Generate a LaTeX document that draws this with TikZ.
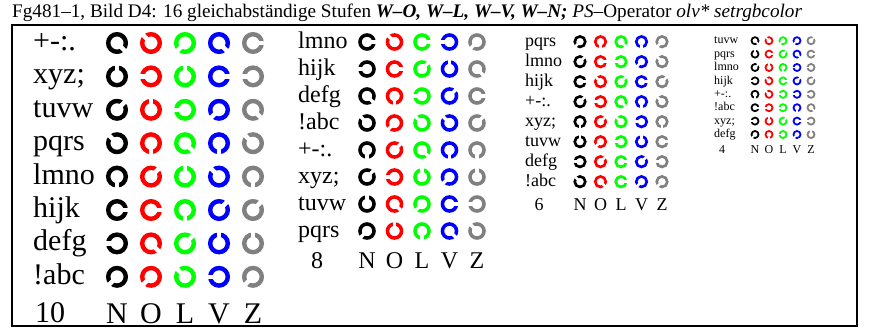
\documentclass[tikz,border=0pt]{standalone}
\usepackage{fontspec}
\setmainfont{Liberation Serif}
\usepackage{tikz}
\usetikzlibrary{positioning}
\definecolor{olvN}{rgb}{0,0,0}
\definecolor{olvO}{rgb}{1,0,0}
\definecolor{olvL}{rgb}{0,1,0}
\definecolor{olvV}{rgb}{0,0,1}
\definecolor{olvZ}{rgb}{0.5,0.5,0.5}
\tikzset{lab/.style = {inner sep = 0, anchor = base, font = \fontsize{#1}{#1}\selectfont}}
\tikzset{frame/.style = {line width = 2}}
% Landolt ring: x, y, size, colour, gap angle
\newcommand{\landolt}[5]{%
  \begin{scope}[shift = {(#1, #2)}, rotate = #5]
    \draw [#4, line width = 0.44*#3] (0, 0) circle [radius = 0.88*#3];
    \fill [white] (0.5*#3, -0.22*#3) rectangle (1.3*#3, 0.22*#3);
  \end{scope}}

\begin{document}
\begin{tikzpicture}[x = 1pt, y = 1pt]
        \useasboundingbox [fill = white] (0, 0) rectangle (876, -330);
        \node [lab = 19.2, anchor = base west] (title) at (12, -17)
          {Fg481--1, Bild D4: 16 gleichabständige Stufen \textbf{\textit{W--O, W--L, W--V, W--N;}} \textit{PS}--Operator \textit{olv* setrgbcolor}};
        \draw [frame] (12, -25) rectangle (857, -326);

        % 10
        \foreach \lbl/\a/\b/\c/\d/\e [count = \i from 0] in {
            {+-:.}/-45/135/225/-45/0, {xyz;}/90/180/90/0/180,
            {tuvw}/45/90/180/225/-45, {pqrs}/135/270/-45/270/135,
            {lmno}/270/45/90/135/270, {hijk}/0/0/270/45/45,
            {defg}/180/-45/45/90/90, {!abc}/225/225/135/180/225} {
          \pgfmathsetmacro\y{-43 - 33.4*\i}
          \node [lab = 30, anchor = base west] (ten\i) at (33, \y - 7.5) {\lbl};
          \landolt{117}{\y}{10}{olvN}{\a}
          \landolt{151}{\y}{10}{olvO}{\b}
          \landolt{185}{\y}{10}{olvL}{\c}
          \landolt{219}{\y}{10}{olvV}{\d}
          \landolt{253}{\y}{10}{olvZ}{\e}
        }
        \node [lab = 30, anchor = base west] (tennum) at (35, -322) {10};
        \foreach \s [count = \k from 0] in {N, O, L, V, Z}
          \node [lab = 30] (ten\s) at (117 + 34*\k, -323) {\s};

        % 8
        \foreach \lbl/\a/\b/\c/\d/\e [count = \i from 0] in {
            {lmno}/0/135/0/180/225, {hijk}/180/0/45/90/-45,
            {defg}/-45/270/180/45/0, {!abc}/135/225/135/135/45,
            {+-:.}/270/45/-45/270/270, {xyz;}/45/180/90/225/90,
            {tuvw}/90/-45/225/0/180, {pqrs}/225/90/270/-45/135} {
          \pgfmathsetmacro\y{-42 - 27*\i}
          \node [lab = 24, anchor = base west] (eight\i) at (298, \y - 6) {\lbl};
          \landolt{367}{\y}{8}{olvN}{\a}
          \landolt{394.5}{\y}{8}{olvO}{\b}
          \landolt{422}{\y}{8}{olvL}{\c}
          \landolt{449.5}{\y}{8}{olvV}{\d}
          \landolt{477}{\y}{8}{olvZ}{\e}
        }
        \node [lab = 24] (eightnum) at (317, -268) {8};
        \foreach \s [count = \k from 0] in {N, O, L, V, Z}
          \node [lab = 24] (eight\s) at (367 + 27.5*\k, -268) {\s};

        % 6
        \foreach \lbl/\a/\b/\c/\d/\e [count = \i from 0] in {
            {pqrs}/225/270/-45/270/225, {lmno}/45/0/180/225/135,
            {hijk}/0/135/45/0/45, {+-:.}/45/180/-45/270/135,
            {xyz;}/270/45/135/180/270, {tuvw}/90/225/180/90/0,
            {defg}/180/45/0/45/180, {!abc}/135/-45/0/225/225} {
          \pgfmathsetmacro\y{-41.7 - 20*\i}
          \node [lab = 18, anchor = base west] (six\i) at (525, \y - 4.8) {\lbl};
          \landolt{580}{\y}{6}{olvN}{\a}
          \landolt{600.5}{\y}{6}{olvO}{\b}
          \landolt{621}{\y}{6}{olvL}{\c}
          \landolt{641.5}{\y}{6}{olvV}{\d}
          \landolt{662}{\y}{6}{olvZ}{\e}
        }
        \node [lab = 18] (sixnum) at (539, -210.5) {6};
        \foreach \s [count = \k from 0] in {N, O, L, V, Z}
          \node [lab = 18] (six\s) at (580 + 20.5*\k, -210.5) {\s};

        % 4
        \foreach \lbl/\a/\b/\c/\d/\e [count = \i from 0] in {
            {tuvw}/-45/135/225/225/45, {pqrs}/90/0/45/-45/0,
            {lmno}/45/90/270/180/180, {hijk}/180/135/0/45/45,
            {+-:.}/270/135/180/180/180, {!abc}/0/180/180/270/-45,
            {xyz;}/180/90/45/0/180, {defg}/225/270/180/225/90} {
          \pgfmathsetmacro\y{-40.7 - 13.4*\i}
          \node [lab = 12, anchor = base west] (four\i) at (714, \y - 3.2) {\lbl};
          \landolt{755}{\y}{4}{olvN}{\a}
          \landolt{769}{\y}{4}{olvO}{\b}
          \landolt{783}{\y}{4}{olvL}{\c}
          \landolt{797}{\y}{4}{olvV}{\d}
          \landolt{811}{\y}{4}{olvZ}{\e}
        }
        \node [lab = 12] (fournum) at (722, -153.3) {4};
        \foreach \s [count = \k from 0] in {N, O, L, V, Z}
          \node [lab = 12] (four\s) at (755 + 14*\k, -153.3) {\s};
      \end{tikzpicture}
\end{document}
